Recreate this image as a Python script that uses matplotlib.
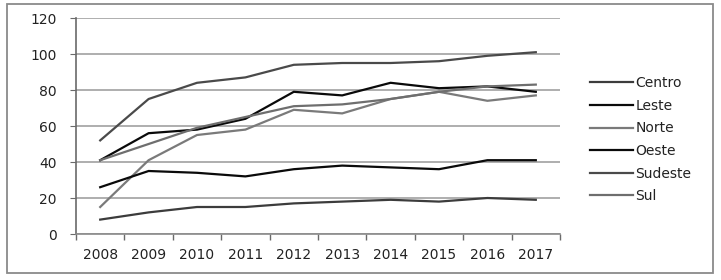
import matplotlib.pyplot as plt
from matplotlib.patches import Rectangle
import numpy as np

# values
years = ['2008', '2009', '2010', '2011', '2012', '2013', '2014', '2015', '2016', '2017']
centro = [8, 12, 15, 15, 17, 18, 19, 18, 20, 19]
leste = [41, 56, 58, 64, 79, 77, 84, 81, 82, 79]
norte = [15, 41, 55, 58, 69, 67, 75, 79, 74, 77]
oeste = [26, 35, 34, 32, 36, 38, 37, 36, 41, 41]
sudeste = [52, 75, 84, 87, 94, 95, 95, 96, 99, 101]
sul = [41, 50, 59, 65, 71, 72, 75, 79, 82, 83]

series = [
    ('Centro', centro, '#3c3c3c'),
    ('Leste', leste, '#0a0a0a'),
    ('Norte', norte, '#7a7a7a'),
    ('Oeste', oeste, '#0a0a0a'),
    ('Sudeste', sudeste, '#4a4a4a'),
    ('Sul', sul, '#6e6e6e'),
]

fig = plt.figure(figsize=(7.21, 2.8), dpi=100)
ax = fig.add_axes([76 / 721, 1 - 234 / 280, 484 / 721, 216 / 280])

x = np.arange(len(years))
for name, vals, col in series:
    ax.plot(x, vals, color=col, lw=1.6, label=name, solid_joinstyle='miter')

ax.set_xlim(-0.5, len(years) - 0.5)
ax.set_ylim(0, 120)
ax.set_yticks(range(0, 121, 20))
ax.set_xticks(x)
ax.set_xticklabels(years)
ax.set_xticks(np.arange(-0.5, len(years), 1), minor=True)

ax.grid(axis='y', color='#a8a8a8', lw=1.3)
ax.set_axisbelow(True)
for s in ['top', 'right']:
    ax.spines[s].set_visible(False)
ax.spines['left'].set_color('#6a6a6a')
ax.spines['bottom'].set_color('#8a8a8a')
ax.spines['left'].set_linewidth(1.2)
ax.spines['bottom'].set_linewidth(1.2)

ax.tick_params(axis='x', which='major', length=0, pad=10, labelsize=10, labelcolor='#222222')
ax.tick_params(axis='x', which='minor', length=4, color='#6a6a6a', width=1)
ax.tick_params(axis='y', length=4, color='#6a6a6a', pad=10, labelsize=10, labelcolor='#222222')

leg = ax.legend(loc='center left', bbox_to_anchor=(590 / 721, 1 - 139.7 / 280),
                bbox_transform=fig.transFigure, frameon=False, fontsize=10,
                handlelength=3.1, handletextpad=0.15, labelspacing=0.62,
                borderpad=0, borderaxespad=0)
for t in leg.get_texts():
    t.set_color('#222222')

fig.patches.append(Rectangle((7 / 721, 1 - 273 / 280), 706 / 721, 269 / 280,
                             transform=fig.transFigure, fill=False,
                             edgecolor='#8a8a8a', lw=1.3))

fig.savefig('out.png', dpi=100)
